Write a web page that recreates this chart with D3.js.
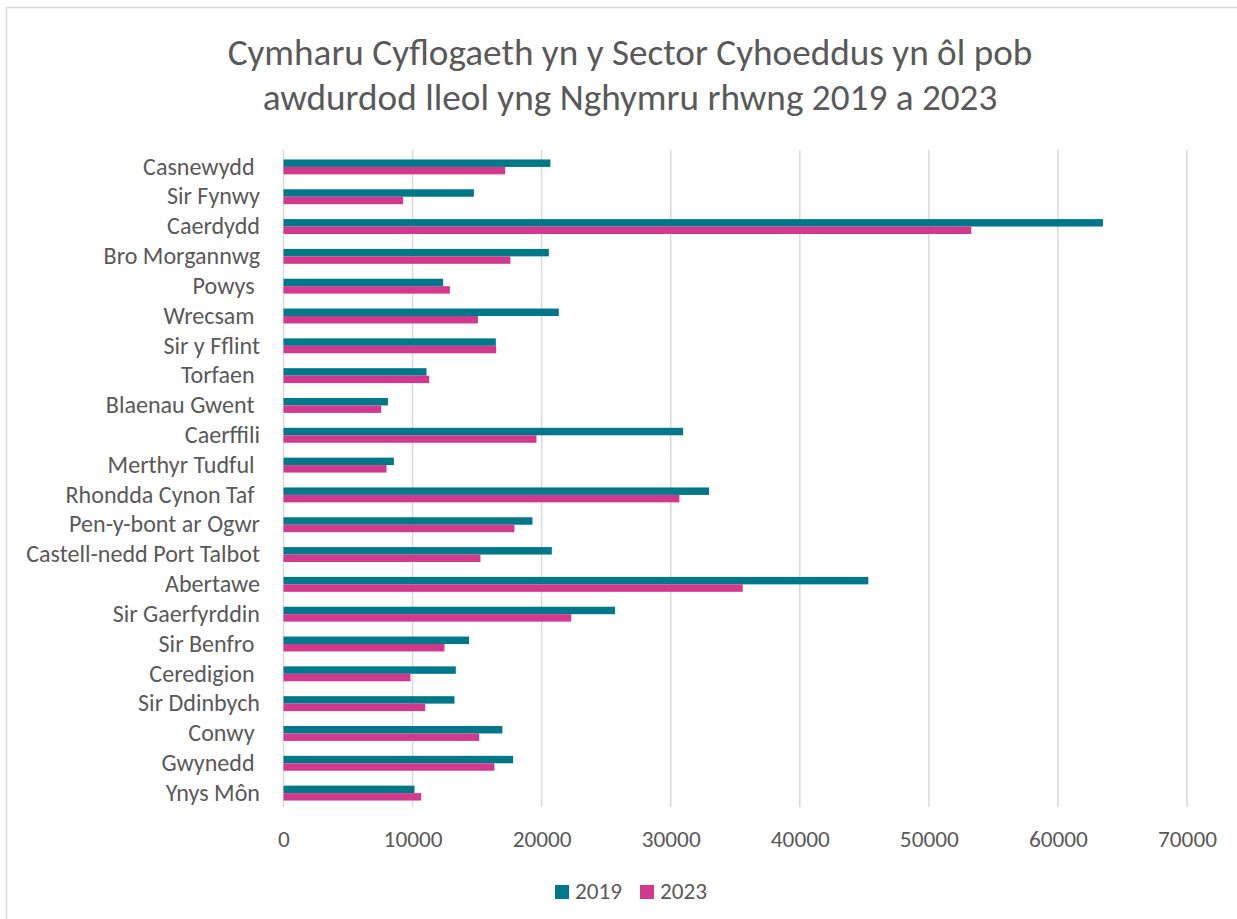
<!DOCTYPE html>
<html>
<head>
<meta charset="utf-8">
<script src="https://cdn.jsdelivr.net/npm/d3@7"></script>
<style>
  body { margin: 0; background: #fff; }
  text { font-family: Carlito, Lato, "Open Sans", sans-serif; fill: #595959; white-space: pre; }
</style>
</head>
<body>
<div id="chart"></div>
<script>

// data, top to bottom as drawn
const categories = ["Casnewydd ", "Sir Fynwy", "Caerdydd", "Bro Morgannwg", "Powys ", "Wrecsam ",
  "Sir y Fflint", "Torfaen ", "Blaenau Gwent ", "Caerffili", "Merthyr Tudful ", "Rhondda Cynon Taf ",
  "Pen-y-bont ar Ogwr", "Castell-nedd Port Talbot", "Abertawe", "Sir Gaerfyrddin", "Sir Benfro ",
  "Ceredigion ", "Sir Ddinbych", "Conwy ", "Gwynedd ", "Ynys Môn"];
const values2019 = [20680, 14750, 63490, 20560, 12370, 21330, 16450, 11080, 8090, 30960, 8550, 32970,
  19290, 20790, 45310, 25690, 14380, 13350, 13250, 16960, 17790, 10150];
const values2023 = [17170, 9270, 53290, 17580, 12890, 15060, 16480, 11290, 7570, 19600, 7980, 30670,
  17890, 15260, 35580, 22290, 12470, 9840, 10980, 15160, 16340, 10670];
const seriesNames = ["2019", "2023"];
const xTicks = [0, 10000, 20000, 30000, 40000, 50000, 60000, 70000];
const titleLines = ["Cymharu Cyflogaeth yn y Sector Cyhoeddus yn ôl pob",
  "awdurdod lleol yng Nghymru rhwng 2019 a 2023"];

const colors = {"2019": "#00788a", "2023": "#d2388c"};

const width = 1237;
const height = 919;
const margin = {top: 152, right: 50, bottom: 111, left: 283.5};

const svg = d3.select("#chart").append("svg")
    .attr("width", width)
    .attr("height", height);

// chart frame (runs off the right and bottom edges)
svg.append("rect")
    .attr("x", 6.5).attr("y", 7.5)
    .attr("width", width + 20).attr("height", height + 20)
    .attr("fill", "#fff")
    .attr("stroke", "#d9d9d9")
    .attr("stroke-width", 1.5);

// shrink/grow a text node so it spans a given width
function fitSize(text, target, base, weight) {
  const t = svg.append("text").attr("font-size", base).attr("font-weight", weight || null).text(text);
  const w = t.node().getComputedTextLength();
  t.remove();
  return base * target / w;
}

const rows = categories.map((c, i) => ({name: c, "2019": values2019[i], "2023": values2023[i]}));

const x = d3.scaleLinear()
    .domain([0, 70000])
    .range([margin.left, 1187]);

const y = d3.scaleBand()
    .domain(categories)
    .range([margin.top, height - margin.bottom])
    .paddingInner(0.5)
    .paddingOuter(0.25);

const ySub = d3.scaleBand()
    .domain(seriesNames)
    .range([0, y.bandwidth()]);

// gridlines
svg.append("g")
  .selectAll("line")
  .data(xTicks)
  .join("line")
    .attr("x1", d => x(d)).attr("x2", d => x(d))
    .attr("y1", 150).attr("y2", 807)
    .attr("stroke", "#d9d9d9")
    .attr("stroke-width", 1.5);

// bars
svg.append("g")
  .selectAll("g")
  .data(rows)
  .join("g")
    .attr("transform", d => "translate(0," + y(d.name) + ")")
  .selectAll("rect")
  .data(d => seriesNames.map(s => ({key: s, value: d[s]})))
  .join("rect")
    .attr("x", x(0))
    .attr("y", d => ySub(d.key))
    .attr("width", d => x(d.value) - x(0))
    .attr("height", ySub.bandwidth())
    .attr("fill", d => colors[d.key]);

// category labels
const catSize = fitSize("Castell-nedd Port Talbot", 234, 20);
const yAxis = svg.append("g")
    .attr("transform", "translate(260,0)")
    .call(d3.axisLeft(y).tickSize(0).tickPadding(0));
yAxis.select(".domain").remove();
yAxis.selectAll("text")
    .attr("font-size", catSize)
    .attr("font-family", null)
    .attr("fill", "#595959");

// value labels
const tickSize = fitSize("10000", 59, 20);
const xAxis = svg.append("g")
    .attr("transform", "translate(0,847)")
    .call(d3.axisBottom(x).tickValues(xTicks).tickFormat(d3.format("d")).tickSize(0).tickPadding(0));
xAxis.select(".domain").remove();
xAxis.selectAll("text")
    .attr("dy", 0)
    .attr("font-size", tickSize)
    .attr("font-family", null)
    .attr("fill", "#595959");

// title (light weight, like the original)
const titleSize = fitSize(titleLines[0], 805, 36, 300);
svg.append("g")
  .selectAll("text")
  .data(titleLines)
  .join("text")
    .attr("x", 630)
    .attr("y", (d, i) => 65 + i * 45)
    .attr("text-anchor", "middle")
    .attr("font-size", titleSize)
    .attr("font-weight", 300)
    .text(d => d);

// legend
const legend = svg.append("g")
  .selectAll("g")
  .data(seriesNames)
  .join("g")
    .attr("transform", (d, i) => "translate(" + (555 + i * 85) + ",885)");
legend.append("rect")
    .attr("width", 14).attr("height", 14)
    .attr("fill", d => colors[d]);
legend.append("text")
    .attr("x", 20).attr("y", 14)
    .attr("font-size", fitSize("2019", 47, 20))
    .text(d => d);

</script>
</body>
</html>
